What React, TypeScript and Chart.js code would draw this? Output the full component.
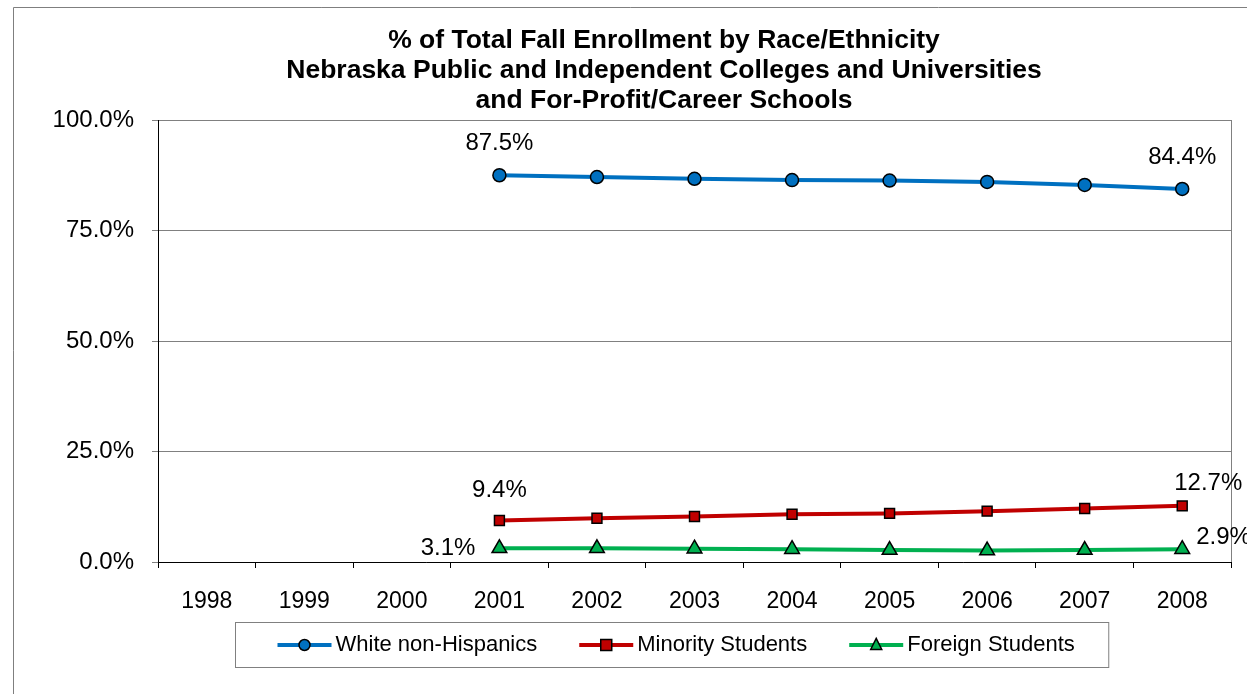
import React, { useEffect, useRef } from 'react';
import { Chart, registerables } from 'chart.js';

Chart.register(...registerables);

const years = ['1998', '1999', '2000', '2001', '2002', '2003', '2004', '2005', '2006', '2007', '2008'];
const whiteNonHispanics = [null, null, null, 87.5, 87.1, 86.7, 86.4, 86.3, 86.0, 85.3, 84.4];
const minorityStudents = [null, null, null, 9.4, 9.9, 10.3, 10.8, 11.0, 11.5, 12.1, 12.7];
const foreignStudents = [null, null, null, 3.1, 3.1, 3.0, 2.9, 2.7, 2.6, 2.7, 2.9];
const seriesLabels = ['White non-Hispanics', 'Minority Students', 'Foreign Students'];
const titleLines = [
  '% of Total Fall Enrollment by Race/Ethnicity',
  'Nebraska Public and Independent Colleges and Universities',
  'and For-Profit/Career Schools',
];
const yMin = 0;
const yMax = 100;
const yStep = 25;

const FONT = '"Liberation Sans", Arial, sans-serif';

const seriesStyles = [
  { color: '#0070C0', pointStyle: 'circle', radius: 6.5, legendR: 5.5 },
  { color: '#C00000', pointStyle: 'rect', radius: 7, legendR: 5.5 },
  { color: '#00B050', pointStyle: 'triangle', radius: 8.5, legendR: 6.5 },
];

// label placement for first / last point: [dx, dy, align]
const labelPlacement = [
  { first: [0, -32, 'center'], last: [0, -32, 'center'] },
  { first: [0, -30, 'center'], last: [26, -22, 'center'] },
  { first: [-24, 0, 'right'], last: [14, -12, 'left'] },
];

function drawMarker(ctx: CanvasRenderingContext2D, style: string, x: number, y: number, r: number, fill: string) {
  ctx.save();
  ctx.fillStyle = fill;
  ctx.strokeStyle = '#000';
  ctx.lineWidth = 1.5;
  ctx.beginPath();
  if (style === 'circle') {
    ctx.arc(x, y, r, 0, Math.PI * 2);
  } else if (style === 'rect') {
    ctx.rect(x - r, y - r, r * 2, r * 2);
  } else {
    const h = r * 1.7;
    ctx.moveTo(x, y - h * 0.6);
    ctx.lineTo(x + r * 0.85, y + h * 0.4);
    ctx.lineTo(x - r * 0.85, y + h * 0.4);
    ctx.closePath();
  }
  ctx.fill();
  ctx.stroke();
  ctx.restore();
}

const framePlugin = {
  id: 'frame',
  beforeDraw(chart: any) {
    const ctx = chart.ctx;
    ctx.save();
    ctx.fillStyle = '#fff';
    ctx.fillRect(0, 0, chart.width, chart.height);
    ctx.strokeStyle = '#7f7f7f';
    ctx.lineWidth = 1;
    ctx.beginPath();
    ctx.moveTo(13.5, chart.height);
    ctx.lineTo(13.5, 7.5);
    ctx.lineTo(chart.width, 7.5);
    ctx.stroke();
    // title
    ctx.fillStyle = '#000';
    ctx.font = `bold 26.5px ${FONT}`;
    ctx.textAlign = 'center';
    ctx.textBaseline = 'middle';
    titleLines.forEach((t, i) => ctx.fillText(t, 664, 41 + i * 30));
    ctx.restore();
  },
  beforeDatasetsDraw(chart: any) {
    const { ctx, chartArea } = chart;
    ctx.save();
    ctx.strokeStyle = '#808080';
    ctx.lineWidth = 1;
    ctx.beginPath();
    ctx.moveTo(Math.round(chartArea.right) + 0.5, chartArea.top);
    ctx.lineTo(Math.round(chartArea.right) + 0.5, chartArea.bottom);
    ctx.stroke();
    ctx.restore();
  },
  afterDatasetsDraw(chart: any) {
    const ctx = chart.ctx;
    ctx.save();
    ctx.fillStyle = '#000';
    ctx.font = `24px ${FONT}`;
    ctx.textBaseline = 'middle';
    chart.data.datasets.forEach((ds: any, di: number) => {
      const meta = chart.getDatasetMeta(di);
      const idx = ds.data.map((v: any, i: number) => (v == null ? -1 : i)).filter((i: number) => i >= 0);
      const ends = [
        { i: idx[0], p: labelPlacement[di].first },
        { i: idx[idx.length - 1], p: labelPlacement[di].last },
      ];
      ends.forEach(({ i, p }) => {
        const el = meta.data[i];
        ctx.textAlign = p[2] as CanvasTextAlign;
        ctx.fillText(`${ds.data[i].toFixed(1)}%`, el.x + (p[0] as number), el.y + (p[1] as number));
      });
    });
    ctx.restore();
  },
  afterDraw(chart: any) {
    const ctx = chart.ctx;
    ctx.save();
    ctx.font = `22px ${FONT}`;
    const lineLen = 54;
    const gapText = 4;
    const gapItem = 42;
    const widths = chart.data.datasets.map((d: any) => ctx.measureText(d.label).width);
    const itemsW = widths.reduce((a: number, w: number) => a + lineLen + gapText + w, 0) + gapItem * (widths.length - 1);
    const boxW = itemsW + 42 + 34;
    const boxH = 45;
    const boxX = Math.round(672 - boxW / 2) + 0.5;
    const boxY = 622.5;
    ctx.strokeStyle = '#808080';
    ctx.lineWidth = 1;
    ctx.strokeRect(boxX, boxY, boxW, boxH);
    let x = boxX + 42;
    const cy = boxY + boxH / 2;
    chart.data.datasets.forEach((d: any, i: number) => {
      const st = seriesStyles[i];
      ctx.strokeStyle = st.color;
      ctx.lineWidth = 4;
      ctx.beginPath();
      ctx.moveTo(x, cy);
      ctx.lineTo(x + lineLen, cy);
      ctx.stroke();
      drawMarker(ctx, st.pointStyle, x + lineLen / 2, cy, st.legendR, st.color);
      ctx.fillStyle = '#000';
      ctx.textAlign = 'left';
      ctx.textBaseline = 'middle';
      ctx.fillText(d.label, x + lineLen + gapText, cy);
      x += lineLen + gapText + widths[i] + gapItem;
    });
    ctx.restore();
  },
};

export default function App() {
  const ref = useRef<HTMLCanvasElement | null>(null);
  useEffect(() => {
    if (!ref.current) return;
    const seriesData = [whiteNonHispanics, minorityStudents, foreignStudents];
    const chart = new Chart(ref.current, {
      type: 'line',
      data: {
        labels: years,
        datasets: seriesData.map((d, i) => ({
          label: seriesLabels[i],
          data: d,
          borderColor: seriesStyles[i].color,
          backgroundColor: seriesStyles[i].color,
          borderWidth: 4,
          pointStyle: seriesStyles[i].pointStyle as any,
          pointRadius: seriesStyles[i].radius,
          pointBackgroundColor: seriesStyles[i].color,
          pointBorderColor: '#000',
          pointBorderWidth: 1.5,
          tension: 0,
          clip: false as any,
        })),
      },
      options: {
        responsive: false,
        animation: false,
        layout: { padding: { top: 120, right: 16, bottom: 78, left: 0 } },
        plugins: {
          legend: { display: false },
          title: { display: false },
          tooltip: { enabled: false },
        },
        scales: {
          x: {
            offset: true,
            grid: {
              offset: true,
              drawOnChartArea: false,
              drawTicks: true,
              tickLength: 6,
              color: '#000',
            },
            border: { color: '#000', width: 1 },
            ticks: {
              color: '#000',
              font: { family: FONT, size: 23 },
              padding: 20,
              maxRotation: 0,
              autoSkip: false,
            },
            afterFit: (s: any) => {
              s.height = 54;
            },
          },
          y: {
            min: yMin,
            max: yMax,
            grid: { color: '#808080', tickLength: 6, lineWidth: 1 },
            border: { color: '#000', width: 1 },
            ticks: {
              stepSize: yStep,
              color: '#000',
              font: { family: FONT, size: 24 },
              padding: 18,
              callback: (v: any) => `${Number(v).toFixed(1)}%`,
            },
            afterFit: (s: any) => {
              s.width = 158;
            },
          },
        },
      },
      plugins: [framePlugin],
    });
    return () => chart.destroy();
  }, []);
  return (
    <div style={{ position: 'absolute', left: 0, top: 0, width: 1247, height: 694 }}>
      <canvas ref={ref} width={1247} height={694} style={{ display: 'block' }} />
    </div>
  );
}
